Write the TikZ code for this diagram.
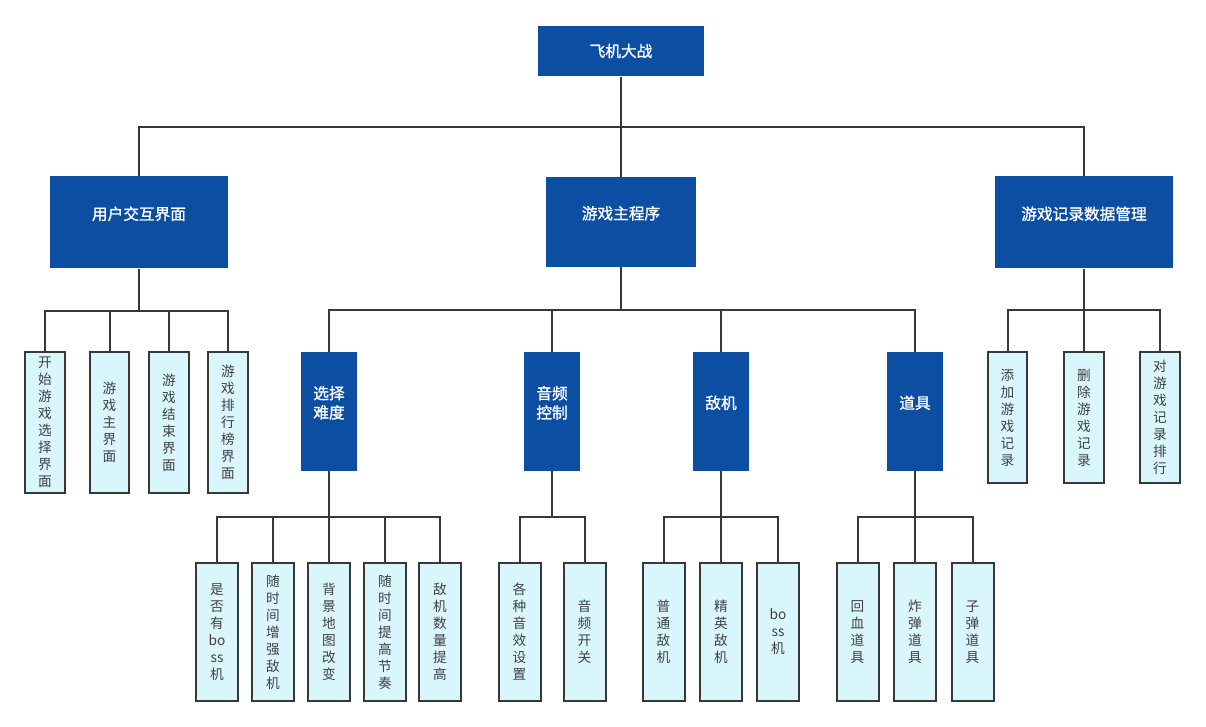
\documentclass[tikz,border=0pt]{standalone}
\usepackage{fontspec}
\setmainfont{Noto Sans CJK SC}
\newfontfamily\boxfont[FakeBold=1.2]{Noto Sans CJK SC}
\definecolor{mainblue}{HTML}{0B4EA2}
\definecolor{leaffill}{HTML}{DAF6FD}
\definecolor{linegray}{HTML}{383838}
\definecolor{leaftext}{HTML}{404040}

\begin{document}
\begin{tikzpicture}[x=0.75pt, y=-0.75pt,
    bluebox/.style={fill=mainblue, text=white, inner sep=0pt, align=center,
      font=\boxfont\fontsize{11.75}{14.5}\selectfont},
    bluetext/.style={text=white, inner sep=0pt, align=center, yshift=6.5pt,
      font=\boxfont\fontsize{11.75}{14.5}\selectfont},
    caption/.style={label={[bluetext]center:#1}},
    leaf/.style={draw=linegray, line width=1.5pt, fill=leaffill, text=leaftext,
      inner sep=0pt, align=center, font=\fontsize{10.25}{12.75}\selectfont},
    link/.style={draw=linegray, line width=1.5pt}]
    \useasboundingbox (0,0) rectangle (1206,727);

    \node[bluebox, minimum width=124.5pt, minimum height=38pt] (plane) at (621,51) {飞机大战};

    \node[bluebox, minimum width=133.5pt, minimum height=69pt, caption=用户交互界面] (ui) at (139,222.5) {};
    \node[bluebox, minimum width=113pt, minimum height=67.5pt, caption=游戏主程序] (game) at (621,222) {};
    \node[bluebox, minimum width=133pt, minimum height=69pt, caption=游戏记录数据管理] (record) at (1084,222.5) {};

    \node[bluebox, minimum width=42pt, minimum height=89pt, caption={选择\\难度}] (level) at (329,411.5) {};
    \node[bluebox, minimum width=42pt, minimum height=89pt, caption={音频\\控制}] (audio) at (552,411.5) {};
    \node[bluebox, minimum width=42pt, minimum height=89pt, caption=敌机] (enemy) at (721,411.5) {};
    \node[bluebox, minimum width=42pt, minimum height=89pt, caption=道具] (prop) at (915,411.5) {};

    % leaves
    \node[leaf, minimum width=29.5pt, minimum height=106pt] (ui1) at (45,422.5) {开\\始\\游\\戏\\选\\择\\界\\面};
    \node[leaf, minimum width=29.5pt, minimum height=106pt] (ui2) at (109.5,422.5) {游\\戏\\主\\界\\面};
    \node[leaf, minimum width=29.5pt, minimum height=106pt] (ui3) at (169,422.5) {游\\戏\\结\\束\\界\\面};
    \node[leaf, minimum width=29.5pt, minimum height=106pt] (ui4) at (228,422.5) {游\\戏\\排\\行\\榜\\界\\面};

    \node[leaf, minimum width=31.5pt, minimum height=104pt] (level1) at (217,632) {是\\否\\有\\bo\\ss\\机};
    \node[leaf, minimum width=31.5pt, minimum height=104pt] (level2) at (273,632) {随\\时\\间\\增\\强\\敌\\机};
    \node[leaf, minimum width=31.5pt, minimum height=104pt] (level3) at (329,632) {背\\景\\地\\图\\改\\变};
    \node[leaf, minimum width=31.5pt, minimum height=104pt] (level4) at (385,632) {随\\时\\间\\提\\高\\节\\奏};
    \node[leaf, minimum width=31.5pt, minimum height=104pt] (level5) at (440,632) {敌\\机\\数\\量\\提\\高};

    \node[leaf, minimum width=31.5pt, minimum height=104pt] (audio1) at (519.5,632) {各\\种\\音\\效\\设\\置};
    \node[leaf, minimum width=31.5pt, minimum height=104pt] (audio2) at (584.5,632) {音\\频\\开\\关};

    \node[leaf, minimum width=31.5pt, minimum height=104pt] (enemy1) at (663.5,632) {普\\通\\敌\\机};
    \node[leaf, minimum width=31.5pt, minimum height=104pt] (enemy2) at (721,632) {精\\英\\敌\\机};
    \node[leaf, minimum width=31.5pt, minimum height=104pt] (enemy3) at (778,632) {bo\\ss\\机};

    \node[leaf, minimum width=31.5pt, minimum height=104pt] (prop1) at (857.5,632) {回\\血\\道\\具};
    \node[leaf, minimum width=31.5pt, minimum height=104pt] (prop2) at (915,632) {炸\\弹\\道\\具};
    \node[leaf, minimum width=31.5pt, minimum height=104pt] (prop3) at (972.5,632) {子\\弹\\道\\具};

    \node[leaf, minimum width=29.5pt, minimum height=98.5pt] (record1) at (1007.5,417.5) {添\\加\\游\\戏\\记\\录};
    \node[leaf, minimum width=29.5pt, minimum height=98.5pt] (record2) at (1084,417.5) {删\\除\\游\\戏\\记\\录};
    \node[leaf, minimum width=29.5pt, minimum height=98.5pt] (record3) at (1160,417.5) {对\\游\\戏\\记\\录\\排\\行};

    % buses
    \coordinate (planeBus) at (621,127);
    \coordinate (uiBus) at (139,311);
    \coordinate (gameBus) at (621,309.5);
    \coordinate (recordBus) at (1084,310);
    \coordinate (levelBus) at (329,517);
    \coordinate (audioBus) at (552,517);
    \coordinate (enemyBus) at (721,517);
    \coordinate (propBus) at (915,517);

    \draw[link] (plane.south) -- (planeBus);
    \foreach \c in {ui,game,record} \draw[link] (planeBus) -| (\c.north);

    \draw[link] (ui.south) -- (uiBus);
    \foreach \c in {ui1,ui2,ui3,ui4} \draw[link] (uiBus) -| (\c.north);

    \draw[link] (game.south) -- (gameBus);
    \foreach \c in {level,audio,enemy,prop} \draw[link] (gameBus) -| (\c.north);

    \draw[link] (record.south) -- (recordBus);
    \foreach \c in {record1,record2,record3} \draw[link] (recordBus) -| (\c.north);

    \draw[link] (level.south) -- (levelBus);
    \foreach \c in {level1,level2,level3,level4,level5} \draw[link] (levelBus) -| (\c.north);

    \draw[link] (audio.south) -- (audioBus);
    \foreach \c in {audio1,audio2} \draw[link] (audioBus) -| (\c.north);

    \draw[link] (enemy.south) -- (enemyBus);
    \foreach \c in {enemy1,enemy2,enemy3} \draw[link] (enemyBus) -| (\c.north);

    \draw[link] (prop.south) -- (propBus);
    \foreach \c in {prop1,prop2,prop3} \draw[link] (propBus) -| (\c.north);

  \end{tikzpicture}
\end{document}
